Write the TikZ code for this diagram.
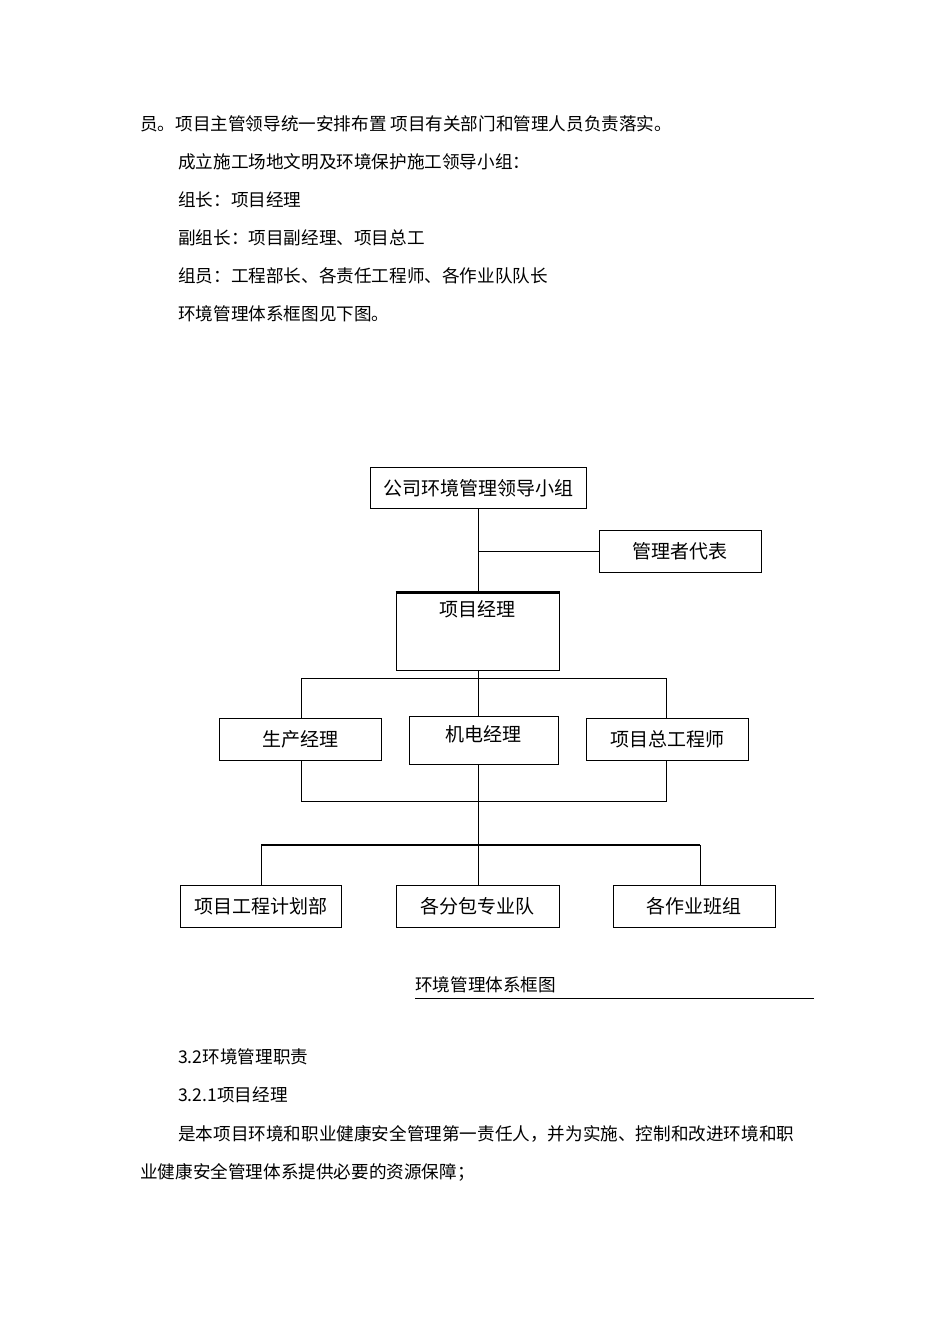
\documentclass[tikz,border=0pt]{standalone}
\usepackage{fontspec}
\setmainfont{Noto Sans CJK SC}
\begin{document}
\begin{tikzpicture}[x=1pt,y=-1pt,
  bx/.style={draw,line width=1pt,inner sep=0pt,font=\fontsize{19}{22}\selectfont},
  tx/.style={anchor=west,inner sep=0pt,font=\fontsize{17.6}{20}\selectfont},
  ln/.style={line width=1pt}]
\useasboundingbox[fill=white] (0,0) rectangle (950,1344);
\node[tx] (t1) at (140,124) {员。项目主管领导统一安排布置 项目有关部门和管理人员负责落实。};
\node[tx] (t2) at (178,162) {成立施工场地文明及环境保护施工领导小组：};
\node[tx] (t3) at (178,200) {组长：项目经理};
\node[tx] (t4) at (178,238) {副组长：项目副经理、项目总工};
\node[tx] (t5) at (178,276) {组员：工程部长、各责任工程师、各作业队队长};
\node[tx] (t6) at (178,314) {环境管理体系框图见下图。};
% boxes
\node[bx,minimum width=216,minimum height=41] (top) at (478,488) {公司环境管理领导小组};
\node[bx,minimum width=162,minimum height=42] (rep) at (680,551) {管理者代表};
\node[bx,minimum width=163,minimum height=77,text depth=45pt] (pm) at (477.5,631.5) {项目经理};
\draw[line width=3pt] (pm.north west) -- (pm.north east);
\node[bx,minimum width=162,minimum height=42] (sc) at (300,739) {生产经理};
\node[bx,minimum width=149,minimum height=48,text depth=12pt] (jd) at (483.5,740) {机电经理};
\node[bx,minimum width=162,minimum height=42] (zg) at (667,739) {项目总工程师};
\node[bx,minimum width=161,minimum height=42] (b1) at (260.5,906) {项目工程计划部};
\node[bx,minimum width=163,minimum height=42] (b2) at (477.5,906) {各分包专业队};
\node[bx,minimum width=162,minimum height=42] (b3) at (694,906) {各作业班组};
% connectors
\coordinate (c1) at (478,551);
\coordinate (c2) at (478,678);
\coordinate (c3) at (478,801);
\draw[ln] (top.south -| c1) -- (pm.north -| c1);
\draw[ln] (c1) -- (rep.west);
\draw[ln] (pm.south -| c2) -- (jd.north -| c2);
\draw[ln] (sc.north -| 301,0) -- (301,678) -- (666,678) -- (zg.north -| 666,0);
\draw[ln] (sc.south -| 301,0) -- (301,801) -- (666,801) -- (zg.south -| 666,0);
\draw[ln] (jd.south -| c3) -- (b2.north -| c3);
\draw[line width=2pt] (261,845) -- (700,845);
\draw[ln] (261,845) -- (b1.north -| 261,0);
\draw[ln] (700,845) -- (b3.north -| 700,0);
\node[tx] (cap) at (415,985) {环境管理体系框图};
\draw[line width=0.6pt] (415,998) -- (814,998);
\node[tx] (t7) at (178,1057) {3.2环境管理职责};
\node[tx] (t8) at (178,1095) {3.2.1项目经理};
\node[tx] (t9) at (178,1134) {是本项目环境和职业健康安全管理第一责任人，并为实施、控制和改进环境和职};
\node[tx] (t10) at (140,1172) {业健康安全管理体系提供必要的资源保障；};
\end{tikzpicture}
\end{document}
